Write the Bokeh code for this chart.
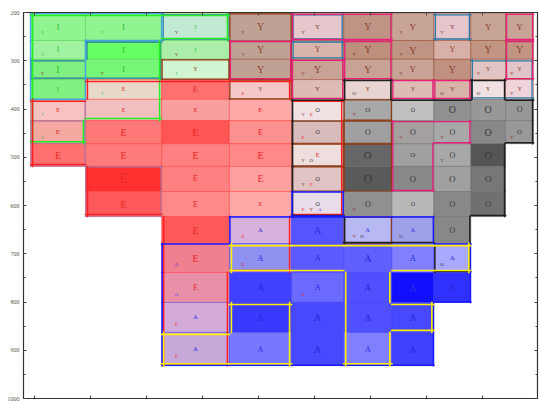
from bokeh.plotting import figure
from bokeh.models import Range1d, FixedTicker, LinearAxis, ColumnDataSource
from bokeh.core.properties import value
from bokeh.embed import file_html
from bokeh.resources import INLINE

# grid edges (x: arbitrary formant units, y: F1 in Hz)
col_edges = [-0.07, 0.91, 2.27, 3.48, 4.59, 5.52, 6.38, 7.13, 7.79, 8.41, 8.91]
row_edges = [202, 258, 297, 339, 380, 424, 472, 519, 571, 623, 679, 739, 801, 863, 932]

# each row: (column, dominant vowel, cell colour, letter size px, minor vowels)
row0 = [(0, 'I', '#90f590', 9, 'I'), (1, 'I', '#90f590', 9, 'I'), (2, 'I', '#c2ead2', 6, 'Y'),
        (3, 'Y', '#c0a294', 10, 'Y'), (4, 'Y', '#e6c8cc', 7, 'Y'), (5, 'Y', '#c09484', 10, ''),
        (6, 'Y', '#c8a496', 9, 'Y'), (7, 'Y', '#e6c6cc', 7, 'Y'), (8, 'Y', '#c8a496', 9, ''),
        (9, 'Y', '#c8a496', 9, '')]
row1 = [(0, 'I', '#a0f2a0', 8, 'I'), (1, 'I', '#66ff66', 9, ''), (2, 'I', '#aaeeaa', 6, 'Y'),
        (3, 'Y', '#c0a294', 10, 'Y'), (4, 'Y', '#d8b4aa', 8, ''), (5, 'Y', '#bd907e', 10, 'Y'),
        (6, 'Y', '#c09484', 11, 'Y'), (7, 'Y', '#d8b0a8', 8, ''), (8, 'Y', '#c29484', 10, ''),
        (9, 'Y', '#c29484', 10, '')]
row2 = [(0, 'I', '#80f080', 10, 'Y'), (1, 'I', '#77f777', 9, 'Y'), (2, 'Y', '#d0f5d0', 6, 'I'),
        (3, 'Y', '#c0a294', 10, ''), (4, 'Y', '#c8a294', 10, 'Y'), (5, 'Y', '#c8a294', 10, ''),
        (6, 'Y', '#c8a294', 9, 'Y'), (7, 'Y', '#c09080', 10, ''), (8, 'Y', '#e0c4c4', 6, 'Y'),
        (9, 'Y', '#e0c4c8', 6, 'Y')]
row3 = [(0, 'I', '#80f080', 7, ''), (1, 'E', '#e8d8c8', 6, 'I'), (2, 'E', '#ff7070', 9, ''),
        (3, 'Y', '#f4c8c8', 6, 'E'), (4, 'Y', '#dcbcb4', 7, ''), (5, 'Y', '#e8d4d0', 6, 'O'),
        (6, 'Y', '#dcbcb4', 6, ''), (7, 'Y', '#d8b4a8', 7, 'O'), (8, 'Y', '#f0e2e2', 6, 'O'),
        (9, 'Y', '#f0d4dc', 6, 'Y')]
row4 = [(0, 'E', '#f6c2c2', 6, 'I'), (1, 'E', '#f0c0c0', 6, ''), (2, 'E', '#f8a0a0', 7, ''),
        (3, 'E', '#ffa8a8', 7, ''), (4, 'O', '#f0e2e2', 6, 'YE'), (5, 'O', '#a8a8a8', 7, 'Y'),
        (6, 'O', '#c0c0c0', 6, ''), (7, 'O', '#909090', 10, ''), (8, 'O', '#989898', 10, ''),
        (9, 'O', '#989898', 8, '')]
row5 = [(0, 'E', '#f4a8a0', 7, 'I'), (1, 'E', '#ff7878', 10, ''), (2, 'E', '#ff5555', 11, ''),
        (3, 'E', '#ff9090', 8, ''), (4, 'O', '#d8bcbc', 6, 'E'), (5, 'O', '#a0a0a0', 8, ''),
        (6, 'O', '#a4a0a0', 8, 'Y'), (7, 'O', '#a8a8a8', 8, 'Y'), (8, 'O', '#888888', 10, ''),
        (9, 'O', '#999999', 7, 'Y')]
row6 = [(0, 'E', '#ff7070', 10, ''), (1, 'E', '#ff7a7a', 10, ''), (2, 'E', '#ff8080', 10, ''),
        (3, 'E', '#ff8888', 10, ''), (4, 'E', '#eedede', 6, 'YO'), (5, 'O', '#666666', 11, 'Y'),
        (6, 'O', '#a0a0a0', 7, ''), (7, 'O', '#a8a8a8', 8, 'Y'), (8, 'O', '#555555', 11, '')]
row7 = [(1, 'E', '#ff3030', 14, ''), (2, 'E', '#ff8080', 8, ''), (3, 'E', '#ffa0a0', 10, ''),
        (4, 'O', '#e0c4c4', 6, 'YE'), (5, 'O', '#5a5a5a', 12, ''), (6, 'O', '#888888', 9, ''),
        (7, 'O', '#a0a0a0', 9, ''), (8, 'O', '#777777', 9, '')]
row8 = [(1, 'E', '#ff5a5a', 10, ''), (2, 'E', '#ff8888', 8, ''), (3, 'E', '#ffa8a8', 6, ''),
        (4, 'O', '#e8dce8', 6, 'EYA'), (5, 'O', '#909090', 8, 'Y'), (6, 'O', '#b8b8b8', 6, ''),
        (7, 'O', '#888888', 8, ''), (8, 'O', '#707070', 8, '')]
row9 = [(2, 'E', '#ff5a5a', 10, ''), (3, 'A', '#d8b0dc', 6, 'E'), (4, 'A', '#5555ff', 10, ''),
        (5, 'A', '#b8b8f4', 6, 'YO'), (6, 'A', '#a0a0e8', 6, 'O'), (7, 'O', '#888888', 8, '')]
row10 = [(2, 'E', '#f08090', 10, 'A'), (3, 'A', '#9090f0', 8, 'E'), (4, 'A', '#5a5aff', 9, ''),
         (5, 'A', '#6060ff', 10, ''), (6, 'A', '#8080ff', 9, ''), (7, 'A', '#a8a8ff', 7, 'O')]
row11 = [(2, 'E', '#e890a8', 8, 'A'), (3, 'A', '#4040ff', 10, ''), (4, 'A', '#6a6aff', 8, 'E'),
         (5, 'A', '#5050ff', 10, ''), (6, 'A', '#1010ff', 11, ''), (7, 'A', '#3030ff', 11, '')]
row12 = [(2, 'A', '#d4aad8', 6, 'E'), (3, 'A', '#3a3aff', 11, ''), (4, 'A', '#4848ff', 10, ''),
         (5, 'A', '#5050ff', 10, ''), (6, 'A', '#4848ff', 10, '')]
row13 = [(2, 'A', '#c8a8d8', 6, 'E'), (3, 'A', '#7878ff', 8, ''), (4, 'A', '#4848ff', 10, ''),
         (5, 'A', '#8080ff', 8, ''), (6, 'A', '#4040ff', 10, '')]
rows = [row0, row1, row2, row3, row4, row5, row6, row7, row8, row9, row10, row11, row12, row13]

# cluster outlines: (cells as (column, row))
outline_green = [(0, r) for r in range(6)] + [(1, r) for r in range(5)] + [(2, 0)]
outline_lightblue = [(0, 0), (0, 1), (0, 2), (0, 3), (1, 0)]
outline_steel = [[(1, 1), (1, 2), (0, 2)], [(2, 0)], [(4, 0)], [(4, 1)], [(7, 0)],
                 [(8, 2), (9, 2), (8, 3), (9, 3)]]
outline_brown = [[(2, 2)], [(3, 0), (3, 1), (3, 2)], [(3, 3)], [(4, 5)], [(4, 6)], [(4, 7)],
                 [(5, 4)], [(5, 5)], [(5, 6), (5, 7)], [(5, 9)]]
outline_pink = [[(3, 1), (3, 2)], [(4, 2), (4, 3)], [(4, 0), (5, 0)], [(5, 1), (5, 2)],
                [(6, 3)], [(7, 3)], [(6, 5), (7, 5), (6, 6), (6, 7)], [(9, 0)], [(9, 1), (9, 2)]]
outline_lavender = [[(0, 4), (0, 5), (0, 6)], [(0, 5)], [(1, 7), (1, 8)]]
outline_red = ([(0, r) for r in (4, 5, 6)] + [(1, r) for r in range(3, 9)] +
               [(2, r) for r in range(3, 14)] + [(3, r) for r in range(3, 11)] +
               [(4, r) for r in range(4, 9)])
outline_black = ([(4, r) for r in range(4, 9)] + [(5, r) for r in range(3, 10)] +
                 [(6, r) for r in range(4, 10)] + [(7, r) for r in range(4, 11)] +
                 [(8, r) for r in range(3, 9)] + [(9, 4), (9, 5)])
outline_blue = ([(2, r) for r in range(10, 14)] + [(c, r) for c in (3, 4, 5, 6) for r in range(9, 14)] +
                [(7, 10), (7, 11)])
outline_blue_small = [(4, 8)]
outline_yellow = [[(3, 10), (4, 10), (5, 10), (6, 10), (7, 10), (5, 11), (5, 12), (5, 13), (6, 12)],
                  [(2, 13), (3, 12), (3, 13)]]

y_ticks = list(range(200, 1001, 100))
y_minor = list(range(250, 1000, 100))
x_ticks = list(range(0, 9))

vowel_text = {'I': '#2fc02f', 'E': '#e82828', 'Y': '#8a4030', 'O': '#3a3a3a', 'A': '#2a2ae0'}
vowel_line = {'I': '#44cc44', 'E': '#ff3030', 'Y': '#8b3a1a', 'O': '#666666', 'A': '#3030ff'}

W, H = 539, 403
ML, MR, MT, MB = 23, 2, 12, 5
x0r, x1r = -0.196, 8.98
p = figure(width=W, height=H, x_range=Range1d(x0r, x1r), y_range=Range1d(1000, 200),
           output_backend="svg", toolbar_location=None, x_axis_location=None)
p.min_border_left, p.min_border_right, p.min_border_top, p.min_border_bottom = ML, MR, MT, MB
p.xgrid.grid_line_color = None
p.ygrid.grid_line_color = None
p.outline_line_color = "#222222"
p.background_fill_color = "white"
p.border_fill_color = "white"

pxx = (W - ML - MR) / (x1r - x0r)
pxy = (H - MT - MB) / 800.0

# cells
L, R, T, B, F, LC = [], [], [], [], [], []
tx, ty, tt, tc, ts = [], [], [], [], []
for r, row in enumerate(rows):
    for (c, v, fill, size, minor) in row:
        xa, xb = col_edges[c], col_edges[c + 1]
        ya, yb = row_edges[r], row_edges[r + 1]
        L.append(xa); R.append(xb); T.append(ya); B.append(yb); F.append(fill); LC.append(vowel_line[v])
        tx.append((xa + xb) / 2); ty.append((ya + yb) / 2); tt.append(v); tc.append(vowel_text[v])
        ts.append(f"{size}px")
        for k, m in enumerate(minor):
            tx.append(xa + (xb - xa) * (0.22 + 0.16 * k)); ty.append(ya + (yb - ya) * 0.72)
            tt.append(m); tc.append(vowel_text[m]); ts.append("5px")

p.quad(left=L, right=R, top=T, bottom=B, fill_color=F, line_color=LC, line_alpha=0.45, line_width=1)


def boundary(cells, inset):
    s = set(cells)
    dx, dy = inset / pxx, inset / pxy
    xs, ys = [], []
    for (c, r) in cells:
        xa, xb = col_edges[c], col_edges[c + 1]
        ya, yb = row_edges[r], row_edges[r + 1]
        if (c - 1, r) not in s:
            xs.append([xa + dx, xa + dx]); ys.append([ya, yb])
        if (c + 1, r) not in s:
            xs.append([xb - dx, xb - dx]); ys.append([ya, yb])
        if (c, r - 1) not in s:
            xs.append([xa, xb]); ys.append([ya + dy, ya + dy])
        if (c, r + 1) not in s:
            xs.append([xa, xb]); ys.append([yb - dy, yb - dy])
    return xs, ys


def draw(groups, color, width, inset, alpha=1.0):
    XS, YS = [], []
    for g in groups:
        xs, ys = boundary(g, inset)
        XS += xs; YS += ys
    p.multi_line(XS, YS, line_color=color, line_width=width, line_alpha=alpha, line_cap="square")


draw(outline_lavender, '#9a7ab8', 1.2, 0.5, 0.8)
draw(outline_brown, '#8b3a14', 1.2, 0.5)
draw(outline_steel, '#2a78a8', 1.3, 1.5)
draw(outline_pink, '#e8207a', 1.3, 1.0)
draw([outline_lightblue], '#44aadd', 1.5, 0.0)
draw([outline_green], '#22ee22', 1.5, 2.0)
draw([outline_red], '#ff2020', 1.5, 2.0)
draw([outline_black], '#202020', 1.5, 1.0)
draw([outline_blue, outline_blue_small], '#1a1aff', 1.5, 0.5)
draw(outline_yellow, '#ffee00', 1.6, 2.0)

src = ColumnDataSource(dict(x=tx, y=ty, t=tt, c=tc, s=ts))
p.text(x='x', y='y', text='t', text_color='c', text_font_size='s', source=src,
       text_align='center', text_baseline='middle', text_font=value("Liberation Serif"))

# axes
ax_l = p.yaxis[0]
ax_l.ticker = FixedTicker(ticks=y_ticks, minor_ticks=y_minor)
ax_l.major_label_text_font_size = "6px"
ax_l.major_label_text_font = "Liberation Serif"
ax_l.major_label_text_color = "#555555"
ax_l.major_label_standoff = 4

ax_r = LinearAxis(ticker=FixedTicker(ticks=y_ticks, minor_ticks=y_minor))
ax_b = LinearAxis(ticker=FixedTicker(ticks=x_ticks))
ax_t = LinearAxis(ticker=FixedTicker(ticks=x_ticks))
p.add_layout(ax_r, "right")
p.add_layout(ax_b, "below")
p.add_layout(ax_t, "above")

for ax in (ax_b, ax_t, ax_r):
    ax.major_label_text_color = None
    ax.major_label_text_font_size = "1px"
    ax.major_label_standoff = 0
for ax in (ax_l, ax_r, ax_b, ax_t):
    ax.axis_line_color = "#333333"
    ax.axis_line_width = 1.2
    ax.major_tick_in = 3
    ax.major_tick_out = 0
    ax.minor_tick_in = 2
    ax.minor_tick_out = 0
    ax.major_tick_line_color = "#444444"
    ax.minor_tick_line_color = "#444444"

open("out.html", "w").write(file_html(p, INLINE))
